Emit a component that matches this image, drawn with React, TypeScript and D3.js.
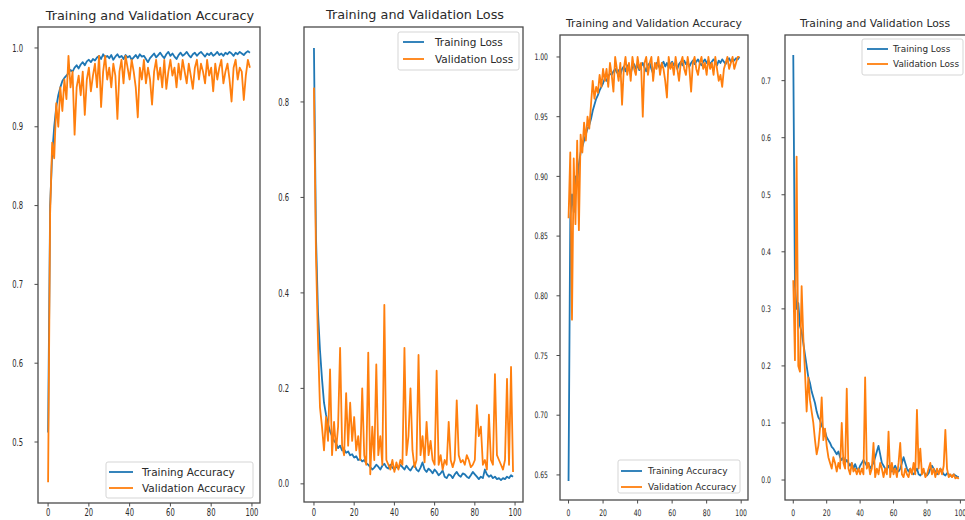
import React from 'react';
import * as d3 from 'd3';

const xTicks = [0, 20, 40, 60, 80, 100];

const trainAccA = [
  0.512, 0.80, 0.865, 0.90, 0.925, 0.94, 0.95, 0.958, 0.962, 0.965,
  0.968, 0.972, 0.97, 0.975, 0.978, 0.974, 0.979, 0.982, 0.978, 0.983,
  0.985, 0.982, 0.986, 0.984, 0.988, 0.99, 0.986, 0.992, 0.988, 0.99,
  0.987, 0.991, 0.985, 0.989, 0.992, 0.988, 0.99, 0.986, 0.991, 0.988,
  0.99, 0.985, 0.988, 0.991, 0.987, 0.992, 0.989, 0.99, 0.986, 0.982,
  0.987, 0.99, 0.993, 0.988, 0.991, 0.994, 0.99, 0.987, 0.992, 0.995,
  0.99, 0.993, 0.989, 0.986, 0.991, 0.994, 0.99, 0.992, 0.995, 0.991,
  0.988, 0.992, 0.994, 0.99, 0.993, 0.995, 0.992, 0.989, 0.993, 0.991,
  0.994, 0.99, 0.992, 0.995, 0.991, 0.993, 0.99, 0.994, 0.992, 0.995,
  0.993, 0.99, 0.994, 0.992, 0.995, 0.993, 0.991, 0.994, 0.996, 0.994,
];
const valAccA = [
  0.449, 0.79, 0.88, 0.86, 0.93, 0.90, 0.95, 0.92, 0.96, 0.935,
  0.99, 0.95, 0.97, 0.89, 0.95, 0.965, 0.94, 0.97, 0.915, 0.96,
  0.975, 0.945, 0.965, 0.98, 0.95, 0.99, 0.925, 0.97, 0.99, 0.96,
  0.975, 0.95, 0.98, 0.965, 0.91, 0.97, 0.985, 0.955, 0.99, 0.975,
  0.96, 0.985, 0.97, 0.95, 0.912, 0.975, 0.96, 0.985, 0.955, 0.975,
  0.96, 0.928, 0.97, 0.985, 0.96, 0.975, 0.95, 0.985, 0.948, 0.97,
  0.985, 0.965, 0.975, 0.95, 0.98, 0.96, 0.985, 0.97, 0.955, 0.98,
  0.965, 0.948, 0.975, 0.985, 0.96, 0.98, 0.97, 0.955, 0.985, 0.965,
  0.975, 0.945, 0.98, 0.96, 0.975, 0.985, 0.955, 0.97, 0.98, 0.96,
  0.932, 0.975, 0.985, 0.96, 0.975, 0.97, 0.934, 0.965, 0.985, 0.975,
];
const trainLossA = [
  0.913, 0.52, 0.36, 0.28, 0.22, 0.17, 0.145, 0.125, 0.11, 0.10,
  0.09, 0.085, 0.075, 0.08, 0.07, 0.072, 0.065, 0.068, 0.06, 0.062,
  0.055, 0.058, 0.05, 0.052, 0.047, 0.05, 0.043, 0.04, 0.035, 0.03,
  0.034, 0.04, 0.036, 0.03, 0.038, 0.042, 0.035, 0.032, 0.04, 0.034,
  0.03, 0.036, 0.033, 0.04, 0.035, 0.03, 0.038, 0.032, 0.028, 0.035,
  0.04, 0.03, 0.026, 0.034, 0.045, 0.03, 0.025, 0.032, 0.028, 0.022,
  0.03, 0.025, 0.018, 0.022, 0.028, 0.015, 0.012, 0.02, 0.018, 0.012,
  0.02, 0.025, 0.018, 0.015, 0.022, 0.02, 0.015, 0.012, 0.018, 0.025,
  0.02, 0.015, 0.01, 0.015, 0.012, 0.03, 0.02, 0.015, 0.018, 0.012,
  0.015, 0.01, 0.012, 0.008, 0.012, 0.01, 0.015, 0.012, 0.018, 0.015,
];
const valLossA = [
  0.83, 0.48, 0.30, 0.16, 0.12, 0.07, 0.14, 0.09, 0.24, 0.06,
  0.13, 0.07, 0.12, 0.285, 0.08, 0.06, 0.19, 0.08, 0.17, 0.09,
  0.14, 0.07, 0.10, 0.05, 0.20, 0.06, 0.04, 0.275, 0.02, 0.12,
  0.05, 0.25, 0.06, 0.10, 0.04, 0.375, 0.05, 0.04, 0.03, 0.05,
  0.025, 0.045, 0.03, 0.05, 0.04, 0.285, 0.06, 0.10, 0.20, 0.07,
  0.035, 0.05, 0.27, 0.06, 0.10, 0.045, 0.13, 0.06, 0.09, 0.05,
  0.04, 0.237, 0.04, 0.06, 0.03, 0.05, 0.04, 0.13, 0.05, 0.035,
  0.05, 0.175, 0.06, 0.045, 0.05, 0.04, 0.06, 0.05, 0.035, 0.04,
  0.05, 0.165, 0.10, 0.12, 0.04, 0.05, 0.03, 0.145, 0.05, 0.04,
  0.23, 0.06, 0.05, 0.04, 0.03, 0.05, 0.22, 0.04, 0.245, 0.025,
];
const trainAccB = [
  0.645, 0.865, 0.885, 0.87, 0.90, 0.895, 0.91, 0.92, 0.925, 0.93,
  0.935, 0.94, 0.943, 0.948, 0.955, 0.96, 0.965, 0.968, 0.972, 0.975,
  0.978, 0.982, 0.98, 0.984, 0.986, 0.985, 0.988, 0.99, 0.987, 0.989,
  0.985, 0.99, 0.992, 0.988, 0.993, 0.99, 0.986, 0.992, 0.994, 0.99,
  0.993, 0.989, 0.992, 0.995, 0.991, 0.988, 0.993, 0.995, 0.99, 0.986,
  0.992, 0.995, 0.993, 0.99, 0.994, 0.996, 0.992, 0.995, 0.991, 0.994,
  0.996, 0.993, 0.995, 0.99, 0.994, 0.996, 0.993, 0.997, 0.994, 0.996,
  0.992, 0.995, 0.997, 0.994, 0.996, 0.998, 0.995, 0.993, 0.996, 0.998,
  0.995, 0.997, 0.994, 0.996, 0.998, 0.996, 0.993, 0.997, 0.995, 0.998,
  0.996, 0.994, 0.997, 0.999, 0.996, 0.998, 0.997, 0.999, 0.998, 1.0,
];
const valAccB = [
  0.865, 0.92, 0.78, 0.915, 0.86, 0.93, 0.855, 0.935, 0.92, 0.945,
  0.93, 0.95, 0.94, 0.96, 0.98, 0.965, 0.975, 0.97, 0.985, 0.975,
  0.99, 0.98, 0.99, 0.975, 0.995, 0.985, 0.971, 1.0, 0.99, 0.98,
  0.995, 0.96, 0.99, 1.0, 0.985, 0.995, 0.98, 1.0, 0.99, 0.985,
  1.0, 0.99, 0.995, 0.95, 0.995, 1.0, 0.985, 0.995, 1.0, 0.98,
  0.995, 0.99, 1.0, 0.985, 0.995, 0.99, 0.98, 0.966, 1.0, 0.99,
  0.995, 0.985, 1.0, 0.99, 0.98, 0.995, 1.0, 0.99, 0.985, 1.0,
  0.99, 0.971, 0.995, 1.0, 0.99, 0.985, 0.995, 1.0, 0.99, 0.995,
  0.985, 1.0, 0.99, 0.995, 0.985, 1.0, 0.99, 0.98, 0.985, 0.975,
  0.99, 0.995, 1.0, 0.99, 0.995, 1.0, 0.99, 0.995, 1.0, 1.0,
];
const trainLossB = [
  0.745, 0.34, 0.30, 0.31, 0.27, 0.26, 0.24, 0.22, 0.20, 0.18,
  0.17, 0.155, 0.145, 0.135, 0.12, 0.11, 0.105, 0.095, 0.09, 0.085,
  0.075, 0.07, 0.065, 0.058, 0.055, 0.05, 0.045, 0.05, 0.04, 0.035,
  0.04, 0.03, 0.035, 0.03, 0.025, 0.03, 0.02, 0.028, 0.02, 0.018,
  0.025, 0.03, 0.035, 0.03, 0.025, 0.03, 0.02, 0.025, 0.03, 0.04,
  0.05, 0.06, 0.045, 0.03, 0.025, 0.02, 0.018, 0.025, 0.02, 0.015,
  0.02, 0.025, 0.018, 0.015, 0.02, 0.03, 0.04, 0.03, 0.02, 0.015,
  0.02, 0.012, 0.01, 0.015, 0.02, 0.01, 0.008, 0.012, 0.015, 0.01,
  0.008, 0.012, 0.02, 0.025, 0.02, 0.015, 0.01, 0.012, 0.02, 0.015,
  0.01, 0.008, 0.012, 0.01, 0.008, 0.006, 0.01, 0.008, 0.006, 0.005,
];
const valLossB = [
  0.35, 0.21, 0.567, 0.20, 0.19, 0.34, 0.25, 0.19, 0.12, 0.18,
  0.14, 0.12, 0.10, 0.07, 0.045, 0.06, 0.09, 0.145, 0.07, 0.09,
  0.06, 0.04, 0.03, 0.02, 0.04, 0.03, 0.015, 0.03, 0.02, 0.10,
  0.03, 0.02, 0.16, 0.02, 0.01, 0.03, 0.015, 0.02, 0.01, 0.02,
  0.01, 0.02, 0.01, 0.18, 0.02, 0.03, 0.01, 0.02, 0.065, 0.005,
  0.02, 0.01, 0.03, 0.02, 0.005, 0.02, 0.01, 0.085, 0.005, 0.03,
  0.01, 0.02, 0.005, 0.03, 0.065, 0.01, 0.005, 0.02, 0.01, 0.005,
  0.02, 0.01, 0.03, 0.01, 0.123, 0.02, 0.055, 0.01, 0.02, 0.005,
  0.01, 0.02, 0.03, 0.01, 0.02, 0.005, 0.02, 0.01, 0.02, 0.01,
  0.025, 0.088, 0.02, 0.005, 0.01, 0.005, 0.01, 0.003, 0.005, 0.002,
];

const accTicksA = [0.5, 0.6, 0.7, 0.8, 0.9, 1.0];
const lossTicksA = [0.0, 0.2, 0.4, 0.6, 0.8];
const accTicksB = [0.65, 0.7, 0.75, 0.8, 0.85, 0.9, 0.95, 1.0];
const lossTicksB = [0.0, 0.1, 0.2, 0.3, 0.4, 0.5, 0.6, 0.7];

const BLUE = '#1f77b4';
const ORANGE = '#ff7f0e';
const AXIS = '#4a4a4a';
const TEXT = '#2a2a2a';
const FONT = 'DejaVu Sans, sans-serif';

type Legend = { x: number; y: number; w: number; h: number; l0: number; l1: number; tx: number; r1: number; r2: number; size: number };
type PanelCfg = {
  box: { l: number; r: number; t: number; b: number };
  yDomain: [number, number];
  yTicks: number[];
  yFmt: string;
  title: string;
  titleX: number;
  titleY: number;
  titleSize: number;
  train: number[];
  val: number[];
  trainLabel: string;
  valLabel: string;
  legend: Legend;
  tickSize: number;
  squeeze: number;
  yLabelEnd: number;
};

const panels: PanelCfg[] = [
  {
    box: { l: 38, r: 260, t: 27, b: 503 }, yDomain: [0.4226, 1.0266], yTicks: accTicksA, yFmt: '.1f',
    title: 'Training and Validation Accuracy', titleX: 150, titleY: 20, titleSize: 12.8,
    train: trainAccA, val: valAccA, trainLabel: 'Training Accuracy', valLabel: 'Validation Accuracy',
    legend: { x: 106, y: 462, w: 147, h: 36, l0: 109, l1: 133, tx: 142, r1: 472, r2: 488, size: 10.5 },
    tickSize: 10, squeeze: 0.68, yLabelEnd: 23,
  },
  {
    box: { l: 304, r: 523, t: 27, b: 502 }, yDomain: [-0.038, 0.957], yTicks: lossTicksA, yFmt: '.1f',
    title: 'Training and Validation Loss', titleX: 415, titleY: 19, titleSize: 12.8,
    train: trainLossA, val: valLossA, trainLabel: 'Training Loss', valLabel: 'Validation Loss',
    legend: { x: 398, y: 32, w: 121, h: 38, l0: 403, l1: 424, tx: 435, r1: 42, r2: 59, size: 10.5 },
    tickSize: 10, squeeze: 0.68, yLabelEnd: 289,
  },
  {
    box: { l: 560, r: 748, t: 35, b: 500 }, yDomain: [0.629, 1.0184], yTicks: accTicksB, yFmt: '.2f',
    title: 'Training and Validation Accuracy', titleX: 654, titleY: 27, titleSize: 10.8,
    train: trainAccB, val: valAccB, trainLabel: 'Training Accuracy', valLabel: 'Validation Accuracy',
    legend: { x: 618, y: 460, w: 122, h: 33, l0: 621, l1: 642, tx: 648, r1: 471, r2: 487, size: 9 },
    tickSize: 9, squeeze: 0.68, yLabelEnd: 548,
  },
  {
    box: { l: 785, r: 967, t: 35, b: 500 }, yDomain: [-0.035, 0.78], yTicks: lossTicksB, yFmt: '.1f',
    title: 'Training and Validation Loss', titleX: 875, titleY: 27, titleSize: 10.8,
    train: trainLossB, val: valLossB, trainLabel: 'Training Loss', valLabel: 'Validation Loss',
    legend: { x: 862, y: 39, w: 101, h: 36, l0: 867, l1: 888, tx: 893, r1: 49, r2: 64, size: 8.9 },
    tickSize: 9, squeeze: 0.68, yLabelEnd: 771,
  },
];

function Panel({ cfg }: { cfg: PanelCfg }) {
  const { box } = cfg;
  const x = d3.scaleLinear().domain([-4.95, 103.95]).range([box.l, box.r]);
  const y = d3.scaleLinear().domain(cfg.yDomain).range([box.b, box.t]);
  const line = d3.line<number>().x((_, i) => x(i)).y((d) => y(d));
  const fmt = d3.format(cfg.yFmt);
  const lg = cfg.legend;
  const clipId = `clip-${box.l}`;
  return (
    <g>
      <clipPath id={clipId}>
        <rect x={box.l} y={box.t} width={box.r - box.l} height={box.b - box.t} />
      </clipPath>
      <g clipPath={`url(#${clipId})`}>
        <path d={line(cfg.train) || ''} fill="none" stroke={BLUE} strokeWidth={1.8} strokeLinejoin="round" />
        <path d={line(cfg.val) || ''} fill="none" stroke={ORANGE} strokeWidth={1.8} strokeLinejoin="round" />
      </g>
      <rect x={box.l} y={box.t} width={box.r - box.l} height={box.b - box.t} fill="none" stroke={AXIS} strokeWidth={1.3} />
      {cfg.yTicks.map((t) => (
        <g key={`y${t}`}>
          <line x1={box.l - 3.5} x2={box.l} y1={y(t)} y2={y(t)} stroke={AXIS} strokeWidth={1} />
          <text
            transform={`translate(${cfg.yLabelEnd},${y(t) + cfg.tickSize * 0.36}) scale(${cfg.squeeze},1)`}
            textAnchor="end" fontSize={cfg.tickSize} fill={TEXT} fontFamily={FONT}
          >{fmt(t)}</text>
        </g>
      ))}
      {xTicks.map((t) => (
        <g key={`x${t}`}>
          <line x1={x(t)} x2={x(t)} y1={box.b} y2={box.b + 3.5} stroke={AXIS} strokeWidth={1} />
          <text
            transform={`translate(${x(t)},516) scale(${cfg.squeeze},1)`}
            textAnchor="middle" fontSize={cfg.tickSize} fill={TEXT} fontFamily={FONT}
          >{t}</text>
        </g>
      ))}
      <text x={cfg.titleX} y={cfg.titleY} textAnchor="middle" fontSize={cfg.titleSize} fill={TEXT} fontFamily={FONT}>{cfg.title}</text>
      <rect x={lg.x} y={lg.y} width={lg.w} height={lg.h} rx={2} fill="white" fillOpacity={0.8} stroke="#d0d0d0" strokeWidth={0.9} />
      <line x1={lg.l0} x2={lg.l1} y1={lg.r1} y2={lg.r1} stroke={BLUE} strokeWidth={1.8} />
      <line x1={lg.l0} x2={lg.l1} y1={lg.r2} y2={lg.r2} stroke={ORANGE} strokeWidth={1.8} />
      <text x={lg.tx} y={lg.r1 + lg.size * 0.36} fontSize={lg.size} fill={TEXT} fontFamily={FONT}>{cfg.trainLabel}</text>
      <text x={lg.tx} y={lg.r2 + lg.size * 0.36} fontSize={lg.size} fill={TEXT} fontFamily={FONT}>{cfg.valLabel}</text>
    </g>
  );
}

export default function App() {
  return (
    <svg width={965} height={520} style={{ position: 'absolute', left: 0, top: 0, background: 'white' }}>
      <rect x={0} y={0} width={965} height={520} fill="white" />
      {panels.map((p, i) => (
        <Panel key={i} cfg={p} />
      ))}
    </svg>
  );
}
